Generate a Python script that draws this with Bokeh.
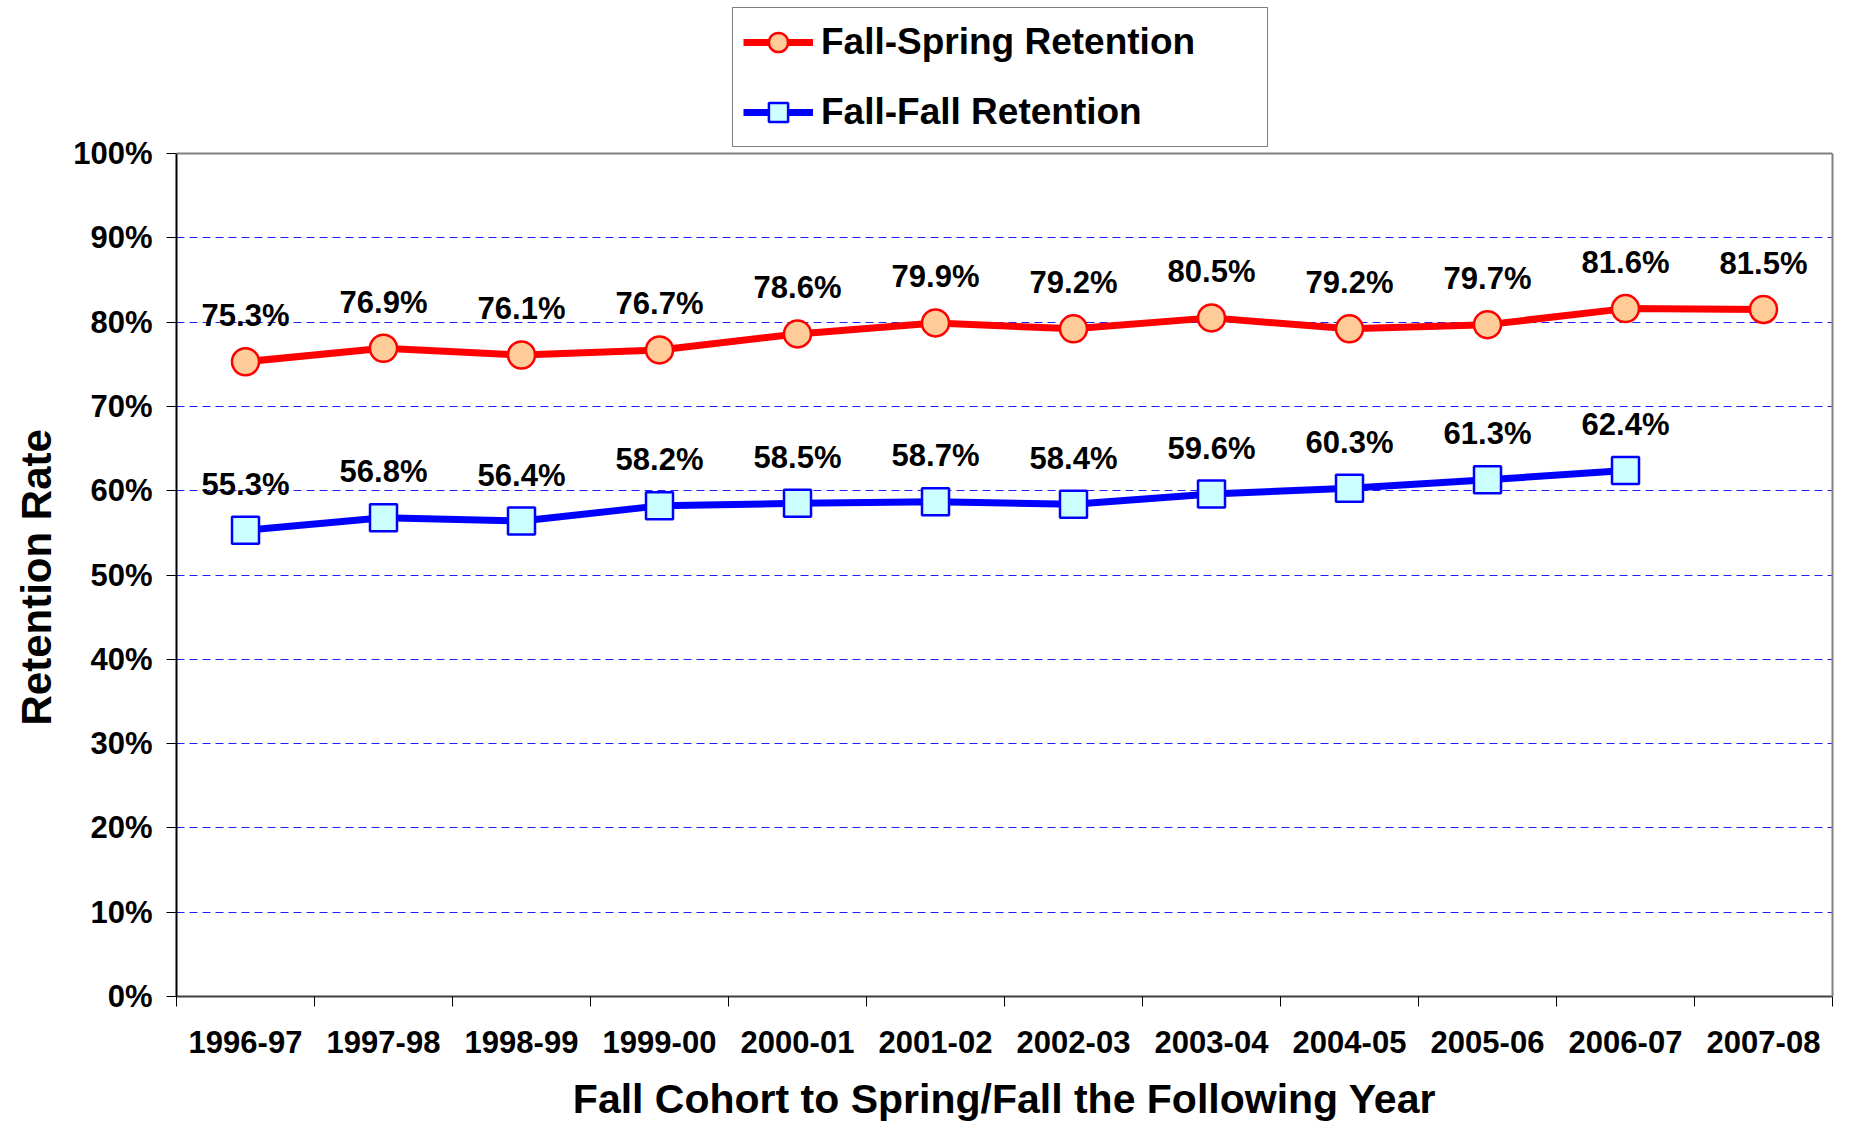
from bokeh.plotting import figure
from bokeh.models import (ColumnDataSource, FixedTicker, NumeralTickFormatter, Legend, LegendItem,
                          Range1d, LabelSet, LinearAxis, Span, Title)
from bokeh.core.properties import value
from bokeh.embed import file_html
from bokeh.resources import INLINE

cohorts = ["1996-97", "1997-98", "1998-99", "1999-00", "2000-01", "2001-02",
           "2002-03", "2003-04", "2004-05", "2005-06", "2006-07", "2007-08"]
fall_spring = [75.3, 76.9, 76.1, 76.7, 78.6, 79.9, 79.2, 80.5, 79.2, 79.7, 81.6, 81.5]
fall_fall = [55.3, 56.8, 56.4, 58.2, 58.5, 58.7, 58.4, 59.6, 60.3, 61.3, 62.4]
y_ticks = [0, 10, 20, 30, 40, 50, 60, 70, 80, 90, 100]

FONT = "Liberation Sans"

xs = [i + 0.5 for i in range(len(cohorts))]
src_fs = ColumnDataSource(dict(x=xs, y=[v / 100 for v in fall_spring],
                               lab=[f"{v:.1f}%" for v in fall_spring]))
src_ff = ColumnDataSource(dict(x=xs[:len(fall_fall)], y=[v / 100 for v in fall_fall],
                               lab=[f"{v:.1f}%" for v in fall_fall]))

# frame: plot area 843 px tall for 0..100%, extra headroom on top for the legend
FRAME_H = 996
PX_PER_UNIT = 843
p = figure(width=1834, height=1125, output_backend="svg", toolbar_location=None,
           x_range=Range1d(0, len(cohorts)), y_range=Range1d(0, FRAME_H / PX_PER_UNIT),
           min_border_left=175, min_border_right=2, min_border_top=0, min_border_bottom=129)
p.background_fill_color = "white"
p.border_fill_color = "white"
p.outline_line_color = None

# axes
p.xaxis.ticker = FixedTicker(ticks=xs, minor_ticks=list(range(len(cohorts) + 1)))
p.xaxis.major_label_overrides = {x: c for x, c in zip(xs, cohorts)}
p.xaxis.major_tick_line_color = None
p.xaxis.minor_tick_out = 10
p.xaxis.minor_tick_in = 0
p.xaxis.minor_tick_line_color = "black"
p.xaxis.minor_tick_line_width = 1
p.xaxis.axis_line_color = "#404040"
p.xaxis.axis_line_width = 2
p.xaxis.major_label_text_font = FONT
p.xaxis.major_label_text_font_style = "bold"
p.xaxis.major_label_text_font_size = "31px"
p.xaxis.major_label_text_color = "black"
p.xaxis.major_label_standoff = 24
p.xaxis.axis_label = "Fall Cohort to Spring/Fall the Following Year"
p.xaxis.axis_label_text_font = FONT
p.xaxis.axis_label_text_font_style = "bold"
p.xaxis.axis_label_text_font_size = "41px"
p.xaxis.axis_label_text_color = "black"
p.xaxis.axis_label_standoff = 20

p.yaxis.bounds = (0, 1)
p.yaxis.ticker = FixedTicker(ticks=[t / 100 for t in y_ticks])
p.yaxis.formatter = NumeralTickFormatter(format="0%")
p.yaxis.major_tick_out = 10
p.yaxis.major_tick_in = 0
p.yaxis.major_tick_line_color = "black"
p.yaxis.minor_tick_line_color = None
p.yaxis.axis_line_color = "black"
p.yaxis.axis_line_width = 2
p.yaxis.major_label_text_font = FONT
p.yaxis.major_label_text_font_style = "bold"
p.yaxis.major_label_text_font_size = "31px"
p.yaxis.major_label_text_color = "black"
p.yaxis.major_label_standoff = 14

# y-axis title, placed along the 0..100% part of the axis
p.add_layout(Title(text="Retention Rate", align="left", offset=271, standoff=21,
                   text_font=FONT, text_font_style="bold", text_font_size="42px",
                   text_color="black"), "left")

# right border of the plot area (as an axis without ticks) and top border at 100%
right = LinearAxis(bounds=(0, 1), ticker=FixedTicker(ticks=[]),
                   major_tick_line_color=None, minor_tick_line_color=None,
                   axis_line_color="#808080", axis_line_width=2,
                   major_label_text_font_size="0px")
p.add_layout(right, "right")
p.add_layout(Span(location=1.0, dimension="width", line_color="#808080", line_width=2))

# grid
p.xgrid.visible = False
p.ygrid.ticker = FixedTicker(ticks=[t / 100 for t in y_ticks[1:-1]])
p.ygrid.grid_line_color = "#2020FF"
p.ygrid.grid_line_width = 1
p.ygrid.grid_line_dash = "8 5"

# series
l1 = p.line("x", "y", source=src_fs, line_color="#FF0000", line_width=7)
m1 = p.scatter("x", "y", source=src_fs, marker="circle", size=27,
               fill_color="#FFCC99", line_color="#FF0000", line_width=2.5)
l2 = p.line("x", "y", source=src_ff, line_color="#0000FF", line_width=7)
m2 = p.scatter("x", "y", source=src_ff, marker="square", size=27,
               fill_color="#CCFFFF", line_color="#0000FF", line_width=2.5)

for src in (src_fs, src_ff):
    p.add_layout(LabelSet(x="x", y="y", text="lab", source=src, text_align="center",
                          text_baseline="middle", y_offset=46, text_font=value(FONT),
                          text_font_style="bold", text_font_size="31px", text_color="black"))

legend = Legend(items=[LegendItem(label="Fall-Spring Retention", renderers=[l1, m1]),
                       LegendItem(label="Fall-Fall Retention", renderers=[l2, m2])],
                location=(556, 849), orientation="vertical",
                label_text_font=FONT, label_text_font_style="bold", label_text_font_size="37px",
                label_text_color="black", glyph_width=70, glyph_height=48, label_height=48,
                label_width=436, spacing=22, padding=10, label_standoff=8,
                border_line_color="black", border_line_width=1, background_fill_color="white",
                margin=0)
p.add_layout(legend, "center")

open("out.html", "w").write(file_html(p, INLINE))
